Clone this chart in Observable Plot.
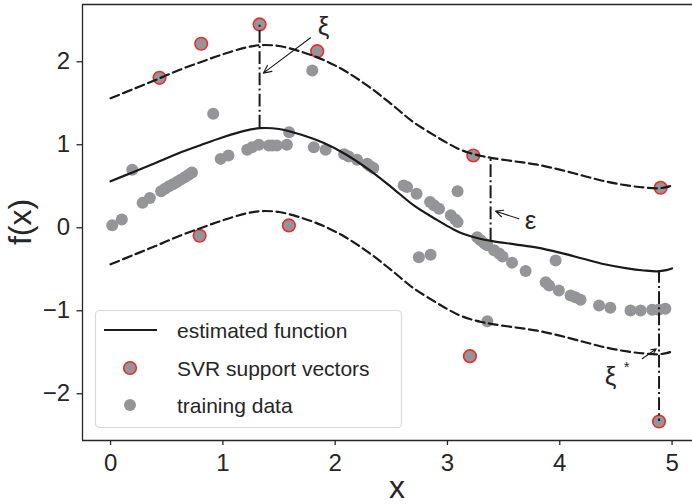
<!DOCTYPE html>
<html>
<head>
<meta charset="utf-8">
<script src="https://cdn.jsdelivr.net/npm/d3@7"></script>
<script src="https://cdn.jsdelivr.net/npm/@observablehq/plot@0.6"></script>
<style>
  html, body { margin: 0; padding: 0; background: white; overflow: hidden; }
  #chart svg { display: block; }
</style>
</head>
<body>
<div id="chart"></div>
<script>
// ---- data ----
const fnX = [0, 0.2, 0.4, 0.6, 0.8, 1.0, 1.2, 1.33, 1.5, 1.7, 1.9, 2.1, 2.3, 2.5, 2.7, 2.9, 3.0, 3.1, 3.2, 3.3, 3.4, 3.6, 3.8, 4.0, 4.2, 4.4, 4.6, 4.75, 4.87, 4.95, 5.0];
const fnY = [0.56, 0.67, 0.78, 0.895, 0.995, 1.09, 1.17, 1.2, 1.19, 1.12, 1.02, 0.88, 0.70, 0.49, 0.27, 0.10, 0.02, -0.05, -0.10, -0.135, -0.16, -0.20, -0.24, -0.30, -0.37, -0.44, -0.49, -0.515, -0.525, -0.51, -0.49];
const upperY = [1.56, 1.67, 1.78, 1.895, 1.995, 2.09, 2.17, 2.2, 2.19, 2.12, 2.02, 1.88, 1.70, 1.49, 1.27, 1.10, 1.02, 0.95, 0.90, 0.865, 0.84, 0.80, 0.76, 0.70, 0.63, 0.56, 0.51, 0.485, 0.475, 0.49, 0.51];
const lowerY = [-0.44, -0.33, -0.22, -0.105, -0.005, 0.09, 0.17, 0.2, 0.19, 0.12, 0.02, -0.12, -0.30, -0.51, -0.73, -0.90, -0.98, -1.05, -1.10, -1.135, -1.16, -1.20, -1.24, -1.30, -1.37, -1.44, -1.49, -1.515, -1.525, -1.51, -1.49];

const trainX = [0.015, 0.10, 0.193, 0.285, 0.35, 0.45, 0.485, 0.52, 0.555, 0.59, 0.625, 0.66, 0.695, 0.725,
  0.914, 0.98, 1.05, 1.217, 1.26, 1.32, 1.41, 1.44, 1.48, 1.57, 1.59, 1.796, 1.81, 1.915,
  2.08, 2.12, 2.195, 2.285, 2.31, 2.34, 2.61, 2.64, 2.725, 2.845, 2.88, 2.925, 3.03, 3.07, 3.09, 3.09,
  2.745, 2.85, 3.265, 3.295, 3.33, 3.355, 3.415, 3.46, 3.49, 3.575, 3.696, 3.963, 3.875, 3.905, 3.992,
  4.096, 4.14, 4.185, 4.35, 4.45, 4.63, 4.72, 4.823, 4.88, 4.94, 3.355];
const trainY = [0.03, 0.10, 0.70, 0.30, 0.36, 0.44, 0.47, 0.50, 0.525, 0.55, 0.58, 0.61, 0.64, 0.665,
  1.373, 0.83, 0.87, 0.94, 0.97, 1.0, 0.99, 0.99, 0.99, 1.0, 1.15, 1.895, 0.97, 0.94,
  0.885, 0.86, 0.82, 0.77, 0.745, 0.72, 0.51, 0.49, 0.41, 0.31, 0.27, 0.23, 0.15, 0.10, 0.07, 0.44,
  -0.354, -0.325, -0.113, -0.15, -0.19, -0.21, -0.27, -0.31, -0.345, -0.42, -0.52, -0.394, -0.655, -0.695, -0.755,
  -0.816, -0.836, -0.867, -0.936, -0.964, -0.996, -0.996, -0.988, -0.988, -0.976, -1.125];

const svX = [0.436, 0.807, 1.327, 1.84, 0.793, 1.588, 3.23, 4.898, 3.20, 4.884];
const svY = [1.807, 2.217, 2.45, 2.128, -0.096, 0.028, 0.871, 0.482, -1.547, -2.334];

// vertical slack / epsilon markers
const gapX  = [1.327, 3.384, 4.884];
const gapY1 = [1.2, -0.16, -0.515];
const gapY2 = [2.45, 0.84, -2.334];

// annotation labels and arrows
const noteText = ["ξ", "ε", "ξ", "*"];
const noteX = [1.897, 3.74, 4.452, 4.595];
const noteY = [2.428, 0.088, -1.80, -1.68];
const noteSize = [26, 26, 26, 15];
const arrowX1 = [1.781, 3.636, 4.734];
const arrowY1 = [2.289, 0.108, -1.578];
const arrowX2 = [1.36, 3.428, 4.86];
const arrowY2 = [1.863, 0.200, -1.458];

const xTicks = [0, 1, 2, 3, 4, 5];
const yTicks = [-2, -1, 0, 1, 2];
const xDomain = [-0.25, 5.182];
const yDomain = [-2.563, 2.690];

const legendLabels = ["estimated function", "SVR support vectors", "training data"];

// ---- tables ----
const fn = fnX.map((x, i) => ({x, f: fnY[i], up: upperY[i], lo: lowerY[i]}));
const train = trainX.map((x, i) => ({x, y: trainY[i]}));
const sv = svX.map((x, i) => ({x, y: svY[i]}));
const gaps = gapX.map((x, i) => ({x, y1: gapY1[i], y2: gapY2[i]}));
const notes = noteText.map((t, i) => ({t, x: noteX[i], y: noteY[i], s: noteSize[i]}));
const arrows = arrowX1.map((x1, i) => ({x1, y1: arrowY1[i], x2: arrowX2[i], y2: arrowY2[i]}));

const INK = "#1a1a1a";
const TXT = "#262626";
const GRAY = "#949599";
const RED = "#ee2a2a";
const FONT = "'Liberation Sans', Arial, Helvetica, sans-serif";

const fmt = d => d < 0 ? "\u2212" + Math.abs(d) : String(d);

const chart = Plot.plot({
  width: 692,
  height: 504,
  marginLeft: 82,
  marginRight: 0,
  marginTop: 4,
  marginBottom: 64,
  style: {fontFamily: FONT, color: TXT, background: "white", overflow: "hidden"},
  x: {domain: xDomain},
  y: {domain: yDomain},
  marks: [
    Plot.dot(train, {x: "x", y: "y", r: 6, fill: GRAY, stroke: "none"}),
    Plot.dot(sv, {x: "x", y: "y", r: 6.3, fill: GRAY, stroke: RED, strokeWidth: 1.6}),
    Plot.line(fn, {x: "x", y: "f", stroke: INK, strokeWidth: 2.2, curve: "catmull-rom"}),
    Plot.line(fn, {x: "x", y: "up", stroke: INK, strokeWidth: 2.2, strokeDasharray: "9,4.5", curve: "catmull-rom"}),
    Plot.line(fn, {x: "x", y: "lo", stroke: INK, strokeWidth: 2.2, strokeDasharray: "9,4.5", curve: "catmull-rom"}),
    Plot.ruleX(gaps, {x: "x", y1: "y1", y2: "y2", stroke: INK, strokeWidth: 2, strokeDasharray: "12.8,3.2,2,3.2"}),
    Plot.arrow(arrows, {x1: "x1", y1: "y1", x2: "x2", y2: "y2", stroke: INK, strokeWidth: 1.1, headLength: 12, headAngle: 50}),
    Plot.text(notes, {x: "x", y: "y", text: "t", fontSize: d => d.s, fill: TXT, textAnchor: "middle", lineAnchor: "middle"}),
    Plot.ruleX([xDomain[0]], {stroke: TXT, strokeWidth: 1.3}),
    Plot.ruleY([yDomain[0]], {stroke: TXT, strokeWidth: 1.3}),
    Plot.ruleY([yDomain[1]], {stroke: TXT, strokeWidth: 1.3}),
    Plot.axisX({ticks: xTicks, tickSize: 5, tickPadding: 8, fontSize: 24, label: null, tickFormat: fmt, stroke: TXT, strokeWidth: 1.3}),
    Plot.axisY({ticks: yTicks, tickSize: 5.5, tickPadding: 7, fontSize: 24, label: null, tickFormat: fmt, stroke: TXT, strokeWidth: 1.3})
  ]
});

document.getElementById("chart").appendChild(chart);

// axis titles and legend
const svg = d3.select(chart);
svg.append("text").attr("x", 397).attr("y", 498).attr("text-anchor", "middle")
  .attr("font-size", 32).attr("fill", TXT).attr("font-family", FONT).text("x");
svg.append("text").attr("transform", "translate(31,222) rotate(-90)").attr("text-anchor", "middle")
  .attr("font-size", 32).attr("fill", TXT).attr("font-family", FONT).text("f(x)");

const lg = svg.append("g").attr("font-family", FONT).attr("font-size", 21).attr("fill", TXT)
  .attr("text-anchor", "start");
lg.append("rect").attr("x", 95.5).attr("y", 310.5).attr("width", 306).attr("height", 117).attr("rx", 4)
  .attr("fill", "white").attr("fill-opacity", 0.85).attr("stroke", "#d9d9d9").attr("stroke-width", 1.2);
const rowY = [330, 368, 405];
lg.append("line").attr("x1", 104).attr("x2", 157).attr("y1", rowY[0]).attr("y2", rowY[0])
  .attr("stroke", INK).attr("stroke-width", 2.2);
lg.append("circle").attr("cx", 130).attr("cy", rowY[1]).attr("r", 6.3)
  .attr("fill", GRAY).attr("stroke", RED).attr("stroke-width", 1.6);
lg.append("circle").attr("cx", 130).attr("cy", rowY[2]).attr("r", 6).attr("fill", GRAY);
legendLabels.forEach((t, i) => {
  lg.append("text").attr("x", 177).attr("y", rowY[i] + 7.5).attr("text-anchor", "start").text(t);
});
</script>
</body>
</html>
